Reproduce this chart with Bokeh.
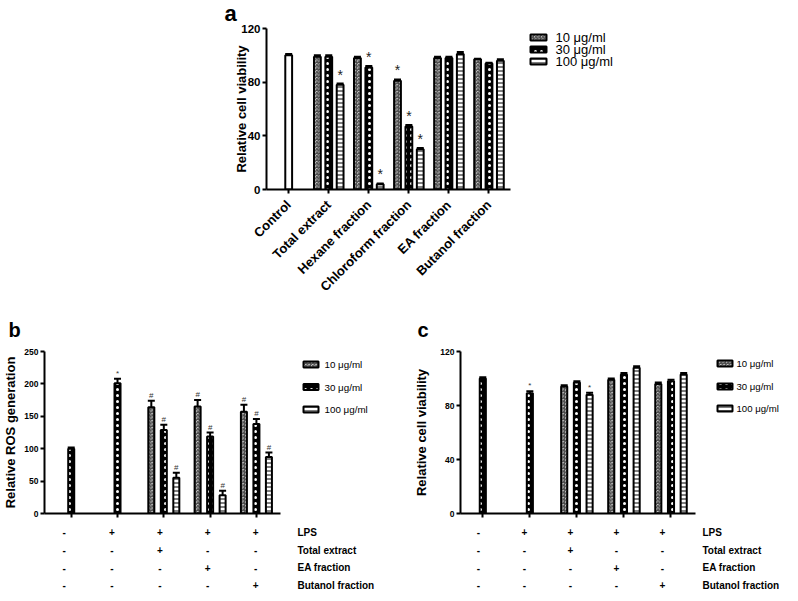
import math
from bokeh.plotting import figure
from bokeh.models import (ColumnDataSource, Range1d, FixedTicker, Whisker, TeeHead)
from bokeh.layouts import column, row
from bokeh.embed import file_html
from bokeh.resources import INLINE
from bokeh.core.properties import value

FONT = "Liberation Sans"

# ---------------- data: panel a ----------------
a_groups = ["Control", "Total extract", "Hexane fraction", "Chloroform fraction",
            "EA fraction", "Butanol fraction"]
a_control = [100]
a_control_err = [1.0]
a_control_sig = [""]
a_10 = [99, 98, 81, 98, 97]
a_30 = [99, 91, 47, 98, 94]
a_100 = [78, 4, 30, 101, 96]
a_10_err = [1, 1, 1, 1, 0.5]
a_30_err = [1, 1, 1, 1, 0.5]
a_100_err = [1, 0.5, 1, 1.5, 1]
a_10_sig = ["", "", "*", "", ""]
a_30_sig = ["", "*", "*", "", ""]
a_100_sig = ["*", "*", "*", "", ""]
a_ticks = [0, 40, 80, 120]

# ---------------- data: panel b ----------------
b_single = [100, 201]
b_single_err = [2, 7]
b_single_sig = ["", "*"]
b_10 = [164, 165, 157]
b_30 = [129, 119, 138]
b_100 = [55, 28, 87]
b_10_err = [10, 10, 11]
b_30_err = [8, 6, 8]
b_100_err = [8, 7, 7]
b_10_sig = ["#", "#", "#"]
b_30_sig = ["#", "#", "#"]
b_100_sig = ["#", "#", "#"]
b_ticks = [0, 50, 100, 150, 200, 250]

# ---------------- data: panel c ----------------
c_single = [100, 89]
c_single_err = [1, 1.5]
c_single_sig = ["", "*"]
c_10 = [94, 99, 96]
c_30 = [97, 103, 98]
c_100 = [88, 108, 103]
c_10_err = [1, 1, 1]
c_30_err = [1, 1, 1]
c_100_err = [1.5, 1, 1]
c_10_sig = ["", "", ""]
c_30_sig = ["", "", ""]
c_100_sig = ["*", "", ""]
c_ticks = [0, 40, 80, 120]

# ---------------- treatment table (panels b, c) ----------------
treat_rows = ["LPS", "Total extract", "EA fraction", "Butanol fraction"]
treat_signs = [["-", "+", "+", "+", "+"],
               ["-", "-", "+", "-", "-"],
               ["-", "-", "-", "+", "-"],
               ["-", "-", "-", "-", "+"]]
series_keys = ["10", "30", "100"]
series_labels = ["10 \u03bcg/ml", "30 \u03bcg/ml", "100 \u03bcg/ml"]

# ---------------- styles ----------------
STY = {
    "ctrl": dict(fill_color="white"),
    "10": dict(fill_color="white", hatch_pattern="criss_cross", hatch_color="#444444",
               hatch_scale=3.5, hatch_weight=1),
    "30": dict(fill_color="black", hatch_pattern="dot", hatch_color="white",
               hatch_scale=6, hatch_weight=3),
    "100": dict(fill_color="white", hatch_pattern="horizontal_line", hatch_color="black",
                hatch_scale=4, hatch_weight=1),
}


def bars(p, xs, tops, errs, sigs, style, width, cap_px, sig_size, sig_color):
    ups = [t + e for t, e in zip(tops, errs)]
    src = ColumnDataSource(dict(x=xs, top=tops, up=ups))
    r = p.vbar(x="x", top="top", bottom=0, width=width, source=src,
               line_color="black", line_width=2, **style)
    w = Whisker(base="x", lower="top", upper="up", source=src, dimension="height",
                line_color="black", line_width=2,
                upper_head=TeeHead(size=cap_px, line_width=2, line_color="black"),
                lower_head=None)
    p.add_layout(w)
    keep = [i for i, s in enumerate(sigs) if s]
    if keep:
        sig_src = ColumnDataSource(dict(x=[xs[i] for i in keep], up=[ups[i] for i in keep],
                                        sig=[sigs[i] for i in keep]))
        p.text(x="x", y="up", text="sig", source=sig_src, text_align="center",
               text_baseline="bottom", y_offset=-1, text_font=value(FONT),
               text_font_size=sig_size, text_color=sig_color)
    return r


def style_axes(p, yticks, ylabel, tick_size, label_size, label_standoff):
    p.xgrid.visible = False
    p.ygrid.visible = False
    p.outline_line_color = None
    p.background_fill_color = "white"
    p.border_fill_color = "white"
    for ax in (p.xaxis[0], p.yaxis[0]):
        ax.axis_line_width = 2
        ax.major_tick_line_width = 2
        ax.major_tick_out = 4
        ax.major_tick_in = 0
        ax.minor_tick_line_color = None
        ax.major_label_text_font = FONT
        ax.major_label_text_font_style = "bold"
        ax.major_label_text_color = "black"
        ax.axis_line_color = "black"
        ax.major_tick_line_color = "black"
    p.yaxis.ticker = FixedTicker(ticks=yticks)
    p.yaxis.major_label_text_font_size = tick_size
    p.yaxis.major_label_standoff = 2
    p.yaxis.axis_label = ylabel
    p.yaxis.axis_label_text_font = FONT
    p.yaxis.axis_label_text_font_style = "bold"
    p.yaxis.axis_label_text_font_size = label_size
    p.yaxis.axis_label_text_color = "black"
    p.yaxis.axis_label_standoff = label_standoff


def panel_letter(p, letter, size, offset, standoff):
    p.title.text = letter
    p.title.text_font = FONT
    p.title.text_font_style = "bold"
    p.title.text_font_size = size
    p.title.text_color = "black"
    p.title.align = "left"
    p.title.offset = offset
    p.title.standoff = standoff
    p.title.vertical_align = "top"


def legend_fig(width, height, top, bottom, rows_y, glyph_x, glyph_w, glyph_h, text_x, font_size):
    """Key drawn in its own borderless plot; coordinates are pixels of that plot's frame."""
    fh = height - top - bottom
    p = figure(width=width, height=height, output_backend="svg", toolbar_location=None,
               title=None, x_range=Range1d(0, width), y_range=Range1d(fh, 0),
               x_axis_location=None, y_axis_location=None,
               min_border_left=0, min_border_right=0, min_border_top=top,
               min_border_bottom=bottom)
    p.grid.visible = False
    p.outline_line_color = None
    p.background_fill_color = "white"
    p.border_fill_color = "white"
    for k, y in zip(series_keys, rows_y):
        p.rect(x=[glyph_x + glyph_w / 2], y=[y], width=glyph_w - 2, height=glyph_h - 2,
               line_color="black", line_width=2, **STY[k])
    p.text(x=[text_x] * 3, y=rows_y, text=series_labels, text_align="left",
           text_baseline="middle", text_font=value(FONT), text_font_size=font_size,
           text_color="black")
    return p


# ================= panel a =================
A_L, A_FW, A_R, A_T, A_B = 266, 244, 10, 28, 119
A_W, A_H = A_L + A_FW + A_R, 308
a_ppu = 40.06
a_x0 = -0.554
pa = figure(width=A_W, height=A_H, output_backend="svg", toolbar_location=None,
            x_range=Range1d(a_x0, a_x0 + A_FW / a_ppu), y_range=Range1d(0, 120),
            min_border_left=A_L, min_border_right=A_R, min_border_top=A_T,
            min_border_bottom=A_B)
style_axes(pa, a_ticks, "Relative cell viability", "11.5px", "13px", -11)
pa.xaxis.ticker = FixedTicker(ticks=list(range(len(a_groups))))
pa.xaxis.major_label_overrides = {i: g for i, g in enumerate(a_groups)}
pa.xaxis.major_label_orientation = math.pi / 4
pa.xaxis.major_label_text_font_size = "13px"
pa.xaxis.major_label_standoff = 9
panel_letter(pa, "a", "22px", -42, 1)

aw, ao = 0.17, 0.284
gi = list(range(1, len(a_groups)))
bars(pa, [0], a_control, a_control_err, a_control_sig, STY["ctrl"], aw, 7, "14px", "#222222")
bars(pa, [g - ao for g in gi], a_10, a_10_err, a_10_sig, STY["10"], aw, 7, "14px", "#222222")
bars(pa, gi, a_30, a_30_err, a_30_sig, STY["30"], aw, 7, "14px", "#222222")
bars(pa, [g + ao for g in gi], a_100, a_100_err, a_100_sig, STY["100"], aw, 7, "14px", "#222222")
la = legend_fig(782 - A_W, A_H, A_T, A_B, [9, 21, 33], 9, 18, 8, 35, "13px")

# ================= panels b, c =================
G = [1, 2, 3, 4, 5]
bo = 0.27
bw = 0.13
CH, CT, CB = 215, 43, 10
TH = 69


def chart_bc(left, frame_w, x0, ppu, ymax, yticks, ylabel, std, single, single_err,
             single_sig, s10, s10e, s10s, s30, s30e, s30s, s100, s100e, s100s,
             letter, letter_off):
    width = left + frame_w + 10
    p = figure(width=width, height=CH, output_backend="svg", toolbar_location=None,
               x_range=Range1d(x0, x0 + frame_w / ppu),
               y_range=Range1d(0, ymax),
               min_border_left=left, min_border_right=10, min_border_top=CT,
               min_border_bottom=CB)
    style_axes(p, yticks, ylabel, "8.5px", "13px", std)
    p.xaxis.ticker = FixedTicker(ticks=G)
    p.xaxis.major_label_text_font_size = "0px"
    p.xaxis.major_label_text_color = None
    p.xaxis.major_label_standoff = 0
    panel_letter(p, letter, "20px", letter_off, 18)
    bars(p, G[:2], single, single_err, single_sig, STY["30"], bw, 7, "8px", "#333333")
    bars(p, [g - bo for g in G[2:]], s10, s10e, s10s, STY["10"], bw, 7, "8px", "#333333")
    bars(p, G[2:], s30, s30e, s30s, STY["30"], bw, 7, "8px", "#333333")
    bars(p, [g + bo for g in G[2:]], s100, s100e, s100s, STY["100"], bw, 7, "8px", "#333333")
    return p


def table_bc(chart, width, left, frame_w, standoff):
    p = figure(width=width, height=TH, output_backend="svg", toolbar_location=None,
               title=None, x_range=chart.x_range, y_range=Range1d(3.4, -0.5),
               x_axis_location=None, y_axis_location="right",
               min_border_left=left, min_border_right=width - left - frame_w,
               min_border_top=0, min_border_bottom=0)
    p.grid.visible = False
    p.outline_line_color = None
    ax = p.yaxis[0]
    ax.ticker = FixedTicker(ticks=list(range(len(treat_rows))))
    ax.major_label_overrides = {i: t for i, t in enumerate(treat_rows)}
    ax.axis_line_color = None
    ax.major_tick_line_color = None
    ax.minor_tick_line_color = None
    ax.major_label_standoff = standoff
    ax.major_label_text_font = FONT
    ax.major_label_text_font_style = "bold"
    ax.major_label_text_font_size = "10px"
    ax.major_label_text_color = "black"
    xs, ys, ts = [], [], []
    for ri, signs in enumerate(treat_signs):
        for gx, s in zip(G, signs):
            xs.append(gx)
            ys.append(ri)
            ts.append(s)
    p.text(x=xs, y=ys, text=ts, text_align="center", text_baseline="middle",
           text_font=value(FONT), text_font_size="10px", text_font_style="bold",
           text_color="black")
    return p


B_W = 411
C_W = 782 - B_W
b_ppu, b_x0 = 47.87, 0.423
pb = chart_bc(36, 244, b_x0, b_ppu, 250, b_ticks, "Relative ROS generation", 3,
              b_single, b_single_err, b_single_sig, b_10, b_10_err, b_10_sig,
              b_30, b_30_err, b_30_sig, b_100, b_100_err, b_100_sig, "b", -36)
lb = legend_fig(B_W - pb.width, CH, CT, CB, [13, 35.5, 58], 12, 17, 8, 34, "9.8px")
tb = table_bc(pb, B_W, 36, 244, 11)

c_ppu, c_x0 = 47.85, 0.526
pc = chart_bc(45, 239, c_x0, c_ppu, 120, c_ticks, "Relative cell viability", 8,
              c_single, c_single_err, c_single_sig, c_10, c_10_err, c_10_sig,
              c_30, c_30_err, c_30_sig, c_100, c_100_err, c_100_sig, "c", -43)
lc = legend_fig(C_W - pc.width, CH, CT, CB, [12, 35, 57], 11, 17, 8, 31, "9.6px")
tc = table_bc(pc, C_W, 45, 239, 10)

layout = column(
    row(pa, la, spacing=0),
    row(column(row(pb, lb, spacing=0), tb, spacing=0),
        column(row(pc, lc, spacing=0), tc, spacing=0), spacing=0),
    spacing=0)

open("out.html", "w").write(file_html(layout, INLINE))
